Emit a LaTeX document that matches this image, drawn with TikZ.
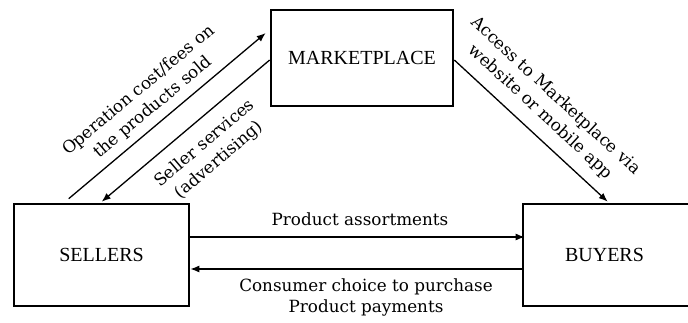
\documentclass[tikz,border=0pt]{standalone}
\usepackage{fontspec}
\setmainfont{Liberation Serif}
\newfontfamily\lblfont{DejaVu Serif}
\usetikzlibrary{arrows.meta,calc}
\begin{document}
\begin{tikzpicture}[x=1pt,y=1pt,
  box/.style={draw,line width=2.6pt,inner sep=0pt,font=\fontsize{20}{24}\selectfont},
  arr/.style={line width=1.3pt,-{Latex[length=9pt,width=7pt]}},
  lbl/.style={font=\lblfont\fontsize{16.8}{21}\selectfont,align=center,inner sep=0pt},
  rlbl/.style={font=\lblfont\fontsize{16.8}{22}\selectfont,align=center,inner sep=0pt}]
\useasboundingbox (0,0) rectangle (688,322);
\node[box,minimum width=182pt,minimum height=96pt] (mkt) at (362,264) {MARKETPLACE};
\node[box,minimum width=175pt,minimum height=102pt] (sel) at (101.5,67) {SELLERS};
\node[box,minimum width=167pt,minimum height=102pt] (buy) at (606.5,67) {};
\node[font=\fontsize{20}{24}\selectfont] (buyt) at (604.5,67) {BUYERS};
\coordinate (c1) at ($(sel.north west)+(56,4)$);
\coordinate (c2) at ($(mkt.west)+(-4,25)$);
\draw[arr] (c1) -- (c2);
\draw[arr] ($(mkt.west)+(0,-2)$) -- ($(sel.north west)+(89,1)$);
\draw[arr] ($(mkt.east)+(0,-2)$) -- ($(buy.north west)+(86,1)$);
\draw[arr] ($(sel.east)+(0,18)$) -- ($(buy.west)+(3,18)$);
\draw[arr] ($(buy.west)+(0,-14)$) -- ($(sel.east)+(0,-14)$);
\node[rlbl,rotate=40] (l1) at (146,223) {Operation cost/fees on\\the products sold};
\node[rlbl,rotate=40.4] (l2) at (212,170) {Seller services\\(advertising)};
\node[rlbl,rotate=-42.7] (l3) at (548,218) {Access to Marketplace via\\website or mobile app};
\node[lbl] (l4) at (360,103) {Product assortments};
\node[lbl] (l5) at (366,25) {Consumer choice to purchase\\Product payments};
\end{tikzpicture}
\end{document}
